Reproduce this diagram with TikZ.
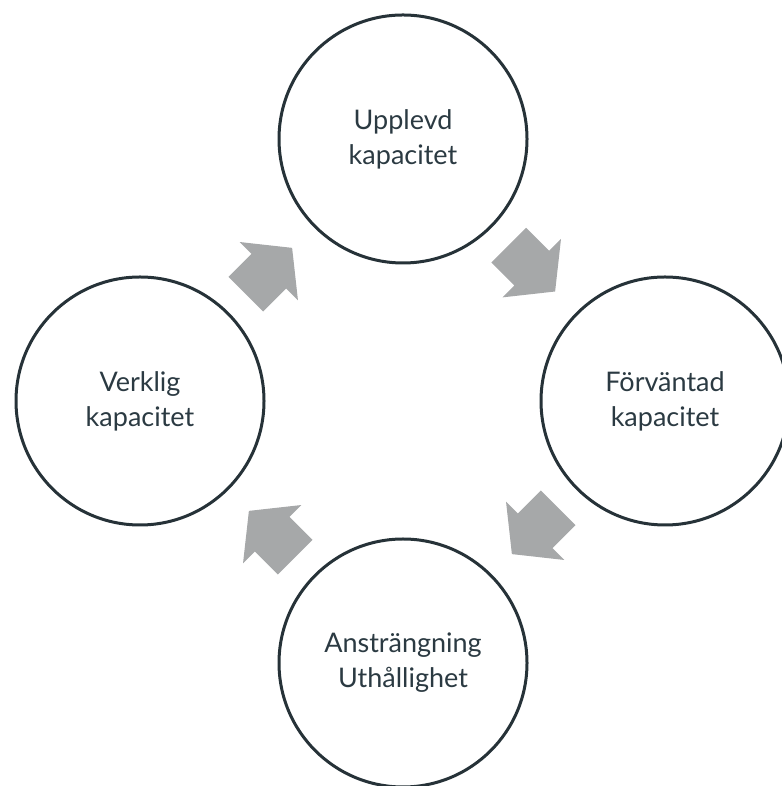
\documentclass[tikz,border=0pt]{standalone}
\usepackage{fontspec}
\setmainfont{Lato}
\definecolor{ringcol}{HTML}{263238}
\definecolor{txtcol}{HTML}{2B3A42}
\definecolor{arrcol}{HTML}{A6A8A9}
\begin{document}
\begin{tikzpicture}[x=1pt,y=1pt,
  ring/.style={circle,draw=ringcol,line width=3pt,minimum size=248pt,inner sep=0pt,
    text=txtcol,align=center,font=\fontsize{27}{35}\selectfont},
  blockarrow/.pic={\fill[arrcol] (0,-24.5) -- (32.5,-24.5) -- (32.5,-41.3) -- (65.5,0)
     -- (32.5,41.3) -- (32.5,24.5) -- (0,24.5) -- cycle;}]
\useasboundingbox (0,0) rectangle (781,786);
\node[ring] (top) at (403,647) {Upplevd\\kapacitet};
\node[ring] (right) at (665,385) {Förväntad\\kapacitet};
\node[ring] (bottom) at (403,123) {Ansträngning\\Uthållighet};
\node[ring] (left) at (140,385) {Verklig\\kapacitet};
\coordinate (a1) at (508.8,540.8);
\coordinate (a2) at (558.2,278.2);
\coordinate (a3) at (295.2,228.8);
\coordinate (a4) at (245.8,491.8);
\pic[rotate=-45] at (a1) {blockarrow};
\pic[rotate=-135] at (a2) {blockarrow};
\pic[rotate=135] at (a3) {blockarrow};
\pic[rotate=45] at (a4) {blockarrow};
\end{tikzpicture}
\end{document}
